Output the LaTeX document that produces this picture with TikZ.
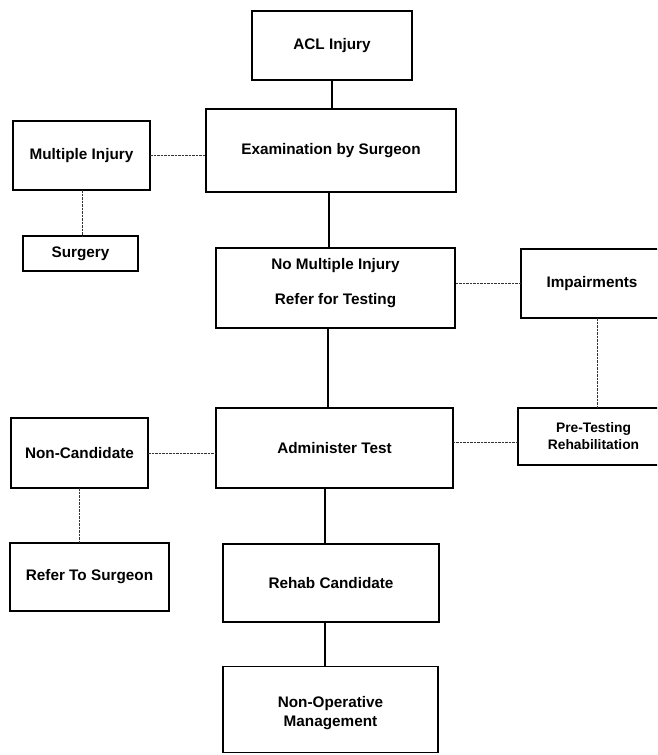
\documentclass[tikz,border=0pt]{standalone}
\usepackage{fontspec}
\setmainfont{Liberation Sans}
\begin{document}
\begin{tikzpicture}[x=1pt,y=-1pt,
  box/.style={draw=black, line width=1.8pt, fill=white, rectangle, inner sep=0pt, outer sep=0pt,
    align=center, font=\fontsize{15.3}{18}\selectfont\bfseries},
  boxtext/.style={inner sep=0pt, align=center, font=\fontsize{15.3}{18}\selectfont\bfseries},
  solidline/.style={draw=black, line width=1.4pt},
  dashline/.style={draw=black!80, line width=1pt, dash pattern=on 2.5pt off 1pt}]
\clip (0,0) rectangle (657,755);
\useasboundingbox (0,0) rectangle (657,755);
\fill[white] (0,0) rectangle (657,755);

\node[box, minimum width=160, minimum height=69] (acl) at (332,45.5) {ACL Injury};
\node[box, minimum width=250, minimum height=83] (exam) at (331,150.5) {Examination by Surgeon};
\node[box, minimum width=137, minimum height=69] (mi) at (81.5,155.5) {Multiple Injury};
\node[box, minimum width=115, minimum height=35] (surg) at (80.5,253.5) {Surgery};
\node[box, minimum width=239, minimum height=80] (nomult) at (335.5,288) {};
\node[boxtext] (nomulttxt) at (335.5,283.5) {No Multiple Injury\\[17pt]Refer for Testing};
\node[box, minimum width=142, minimum height=69] (imp) at (592,283.5) {Impairments};
\node[box, minimum width=151, minimum height=57, font=\fontsize{13.8}{17}\selectfont\bfseries] (pre) at (593.5,436.5) {Pre-Testing\\Rehabilitation};
\node[box, minimum width=237, minimum height=80] (admin) at (334.5,448) {Administer Test};
\node[box, minimum width=137, minimum height=70] (nc) at (79.5,453) {Non-Candidate};
\node[box, minimum width=159, minimum height=68] (rts) at (89.5,577) {Refer To Surgeon};
\node[box, minimum width=216, minimum height=78] (rehab) at (331,583) {Rehab Candidate};
\node[box, minimum width=215, minimum height=86] (nonop) at (330.5,709.5) {};
\node[boxtext, font=\fontsize{15.3}{19}\selectfont\bfseries] (noroptxt) at (330.5,713) {Non-Operative\\Management};

% main solid chain
\draw[solidline] (acl.south) -- (acl.south |- exam.north);
\draw[solidline] ([xshift=-2pt]exam.south) -- ([xshift=-2pt]exam.south |- nomult.north);
\draw[solidline] ([xshift=-3pt]exam.south |- nomult.south) -- ([xshift=-3pt]exam.south |- admin.north);
\draw[solidline] ([xshift=-6pt]rehab.north) -- ([xshift=-6pt]rehab.north |- admin.south);
\draw[solidline] ([xshift=-6pt]rehab.south) -- ([xshift=-6pt]rehab.south |- nonop.north);

% dashed side links
\draw[dashline] (mi.east) -- (mi.east -| exam.west);
\draw[dashline] ([xshift=0.5pt]mi.south) -- ([xshift=0.5pt]mi.south |- surg.north);
\draw[dashline] (imp.west) -- (imp.west -| nomult.east);
\draw[dashline] ([xshift=5pt]imp.south) -- ([xshift=5pt]imp.south |- pre.north);
\draw[dashline] ([yshift=-5.5pt]pre.west) -- ([yshift=-5.5pt]pre.west -| admin.east);
\draw[dashline] (nc.east) -- (nc.east -| admin.west);
\draw[dashline] (nc.south) -- (nc.south |- rts.north);
\end{tikzpicture}
\end{document}
